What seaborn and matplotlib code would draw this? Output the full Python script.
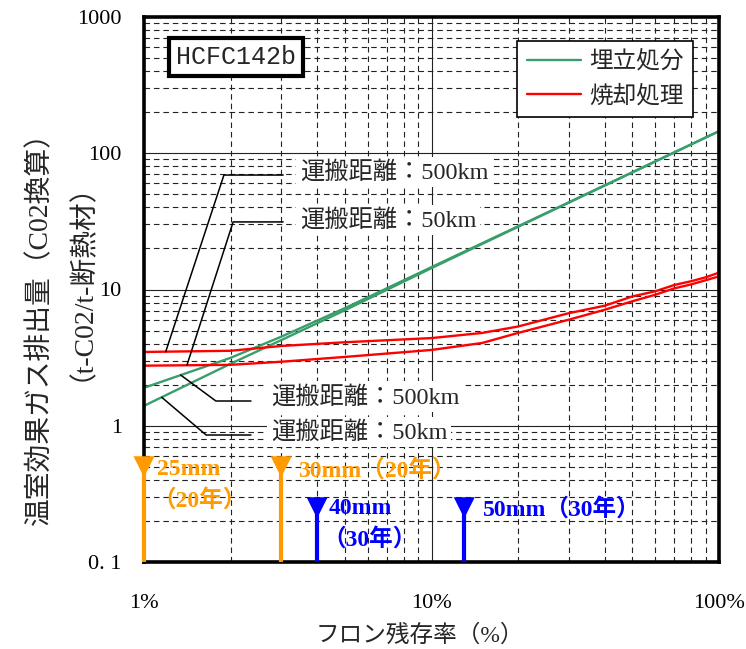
import numpy as np
import matplotlib
matplotlib.use("Agg")
import matplotlib.pyplot as plt
import matplotlib.ticker as mticker
import seaborn as sns

# フロン残存率 (%) と温室効果ガス排出量 (t-CO2 / t-断熱材)
landfill_x = [1, 2, 3, 5, 10, 20, 30, 50, 100]
landfill_500km = [1.9, 3.15, 4.5, 7.3, 14.6, 29.1, 43.6, 72.6, 145.4]
landfill_50km = [1.4, 2.85, 4.25, 7.05, 14.35, 28.85, 43.35, 72.35, 145.0]

incin_x = [1, 2, 3, 5, 10, 15, 20, 30, 40, 50, 60, 70, 80, 90, 100]
incin_500km = [3.48, 3.55, 3.85, 4.1, 4.4, 4.8, 5.35, 6.7, 7.6, 8.9, 9.7, 10.8, 11.5, 12.3, 13.3]
incin_50km = [2.76, 2.8, 2.95, 3.2, 3.6, 4.05, 4.8, 6.0, 7.1, 8.2, 9.15, 10.2, 10.9, 11.7, 12.5]

series_names = ["埋立処分", "焼却処理"]
distance_labels = ["運搬距離：500km", "運搬距離：50km"]

# 断熱材厚さ別の残存率マーカー
marker_x = [1, 3, 4, 13]
marker_y = [0.5, 0.5, 0.25, 0.25]
marker_line1 = ["25mm", "30mm（20年）", "40mm", "50mm（30年）"]
marker_line2 = ["（20年）", "", "（30年）", ""]

x_ticks = [1, 10, 100]
x_ticklabels = ["1%", "10%", "100%"]
y_ticks = [0.1, 1, 10, 100, 1000]
y_ticklabels = ["0. 1", "1", "10", "100", "1000"]

GREEN = "#3a9e6b"
RED = "#ff0000"
ORANGE = "#ff9a00"
BLUE = "#0000ff"
marker_colors = [ORANGE, ORANGE, BLUE, BLUE]
FONT = ["Liberation Serif", "Noto Sans CJK JP"]

sns.set_theme(style="white")
plt.rcParams["font.family"] = FONT
plt.rcParams["axes.unicode_minus"] = False

fig = plt.figure(figsize=(7.46, 6.49), dpi=100)
ax = fig.add_axes([144 / 746, 1 - 562 / 649, 575 / 746, 545 / 649])
ax.set_xscale("log")
ax.set_yscale("log")
ax.set_xlim(1, 100)
ax.set_ylim(0.1, 1000)

# 排出量の系列
sns.lineplot(x=landfill_x, y=landfill_500km, color=GREEN, lw=1.7, ax=ax,
             estimator=None, label=series_names[0])
sns.lineplot(x=landfill_x, y=landfill_50km, color=GREEN, lw=1.7, ax=ax,
             estimator=None, legend=False)
sns.lineplot(x=incin_x, y=incin_500km, color=RED, lw=1.7, ax=ax,
             estimator=None, label=series_names[1])
sns.lineplot(x=incin_x, y=incin_50km, color=RED, lw=1.7, ax=ax,
             estimator=None, legend=False)

# 軸・目盛・グリッド
ax.set_xticks(x_ticks, x_ticklabels)
ax.set_yticks(y_ticks, y_ticklabels)
for axis in (ax.xaxis, ax.yaxis):
    axis.set_minor_locator(mticker.LogLocator(base=10, subs=np.arange(2, 10), numticks=30))
    axis.set_minor_formatter(mticker.NullFormatter())
ax.set_xlabel("")
ax.set_ylabel("")
ax.set_axisbelow(True)
ax.grid(which="major", color="#222222", lw=0.8, ls="-")
ax.grid(which="minor", color="#222222", lw=0.8, ls=(0, (5, 3.5)))
ax.tick_params(which="both", direction="in", top=False, right=False,
               colors="black", labelsize=16)
ax.tick_params(which="major", length=6, width=1)
ax.tick_params(which="minor", length=4, width=1)
ax.tick_params(axis="x", pad=23)
ax.tick_params(axis="y", pad=16)
for sp in ax.spines.values():
    sp.set_color("black")
    sp.set_linewidth(2.6)

# 凡例
leg = ax.legend(loc="upper right", bbox_to_anchor=(0.955, 0.956), frameon=True,
                fancybox=False, edgecolor="black", framealpha=1, borderaxespad=0,
                handlelength=2.3, handletextpad=0.35, labelspacing=0.5, borderpad=0.4,
                prop=dict(family=FONT, size=17))
leg.get_frame().set_linewidth(1.2)

# 冷媒名
ax.text(0.160, 0.9266, "HCFC142b", transform=ax.transAxes, ha="center", va="center",
        fontsize=18, family="Liberation Mono",
        bbox=dict(boxstyle="square,pad=0.28", facecolor="white", edgecolor="black", linewidth=3))


# 運搬距離の引出線
def value_at(xs, ys, x0):
    return 10 ** np.interp(np.log10(x0), np.log10(xs), np.log10(ys))


to_axes = ax.transData + ax.transAxes.inverted()
leaders = [
    (incin_x, incin_500km, 1.19, (0.139, 0.710), 0.242, (0.271, 0.7156), distance_labels[0]),
    (incin_x, incin_50km, 1.41, (0.155, 0.624), 0.242, (0.271, 0.6275), distance_labels[1]),
    (landfill_x, landfill_500km, 1.342, (0.125, 0.2954), 0.186, (0.2203, 0.3028), distance_labels[0]),
    (landfill_x, landfill_50km, 1.152, (0.108, 0.233), 0.186, (0.2203, 0.2385), distance_labels[1]),
]
for xs, ys, x0, elbow, x_end, text_pos, label in leaders:
    start = to_axes.transform((x0, value_at(xs, ys, x0)))
    ax.plot([start[0], elbow[0], x_end], [start[1], elbow[1], elbow[1]],
            color="black", lw=1.1, transform=ax.transAxes, zorder=4)
    ax.text(text_pos[0], text_pos[1], label, transform=ax.transAxes, ha="left", va="center",
            fontsize=17.5, zorder=5,
            bbox=dict(facecolor="white", edgecolor="none", pad=3))

# 断熱材厚さのマーカー
ax.vlines(marker_x, 0.1, marker_y, colors=marker_colors, lw=3, zorder=6, clip_on=False)
ax.scatter(marker_x, marker_y, marker="v", s=230, c=marker_colors, zorder=7, clip_on=False,
           linewidths=0)
offsets1 = [(13, -3), (17, -3), (12, -1), (19, -1)]
offsets2 = [(8, -33), (0, 0), (5, -31), (0, 0)]
for x, y, c, t1, t2, o1, o2 in zip(marker_x, marker_y, marker_colors,
                                    marker_line1, marker_line2, offsets1, offsets2):
    ax.annotate(t1, xy=(x, y), xytext=o1, textcoords="offset pixels", ha="left",
                va="center", color=c, fontsize=17, fontweight="bold", zorder=8)
    if t2:
        ax.annotate(t2, xy=(x, y), xytext=o2, textcoords="offset pixels", ha="left",
                    va="center", color=c, fontsize=17, fontweight="bold", zorder=8)

# 軸ラベル
fig.text(40 / 746, 1 - 322 / 649, "温室効果ガス排出量（C02換算）", rotation=90,
         ha="center", va="center", fontsize=20)
fig.text(68 / 746, 1 - 268 / 649, "（t-C02/t-断熱材）", rotation=90,
         ha="center", va="center", fontsize=20)
fig.text(420 / 746, 1 - 636 / 649, "フロン残存率（%）", ha="center", va="center", fontsize=17)

fig.savefig("out.png", dpi=100)
